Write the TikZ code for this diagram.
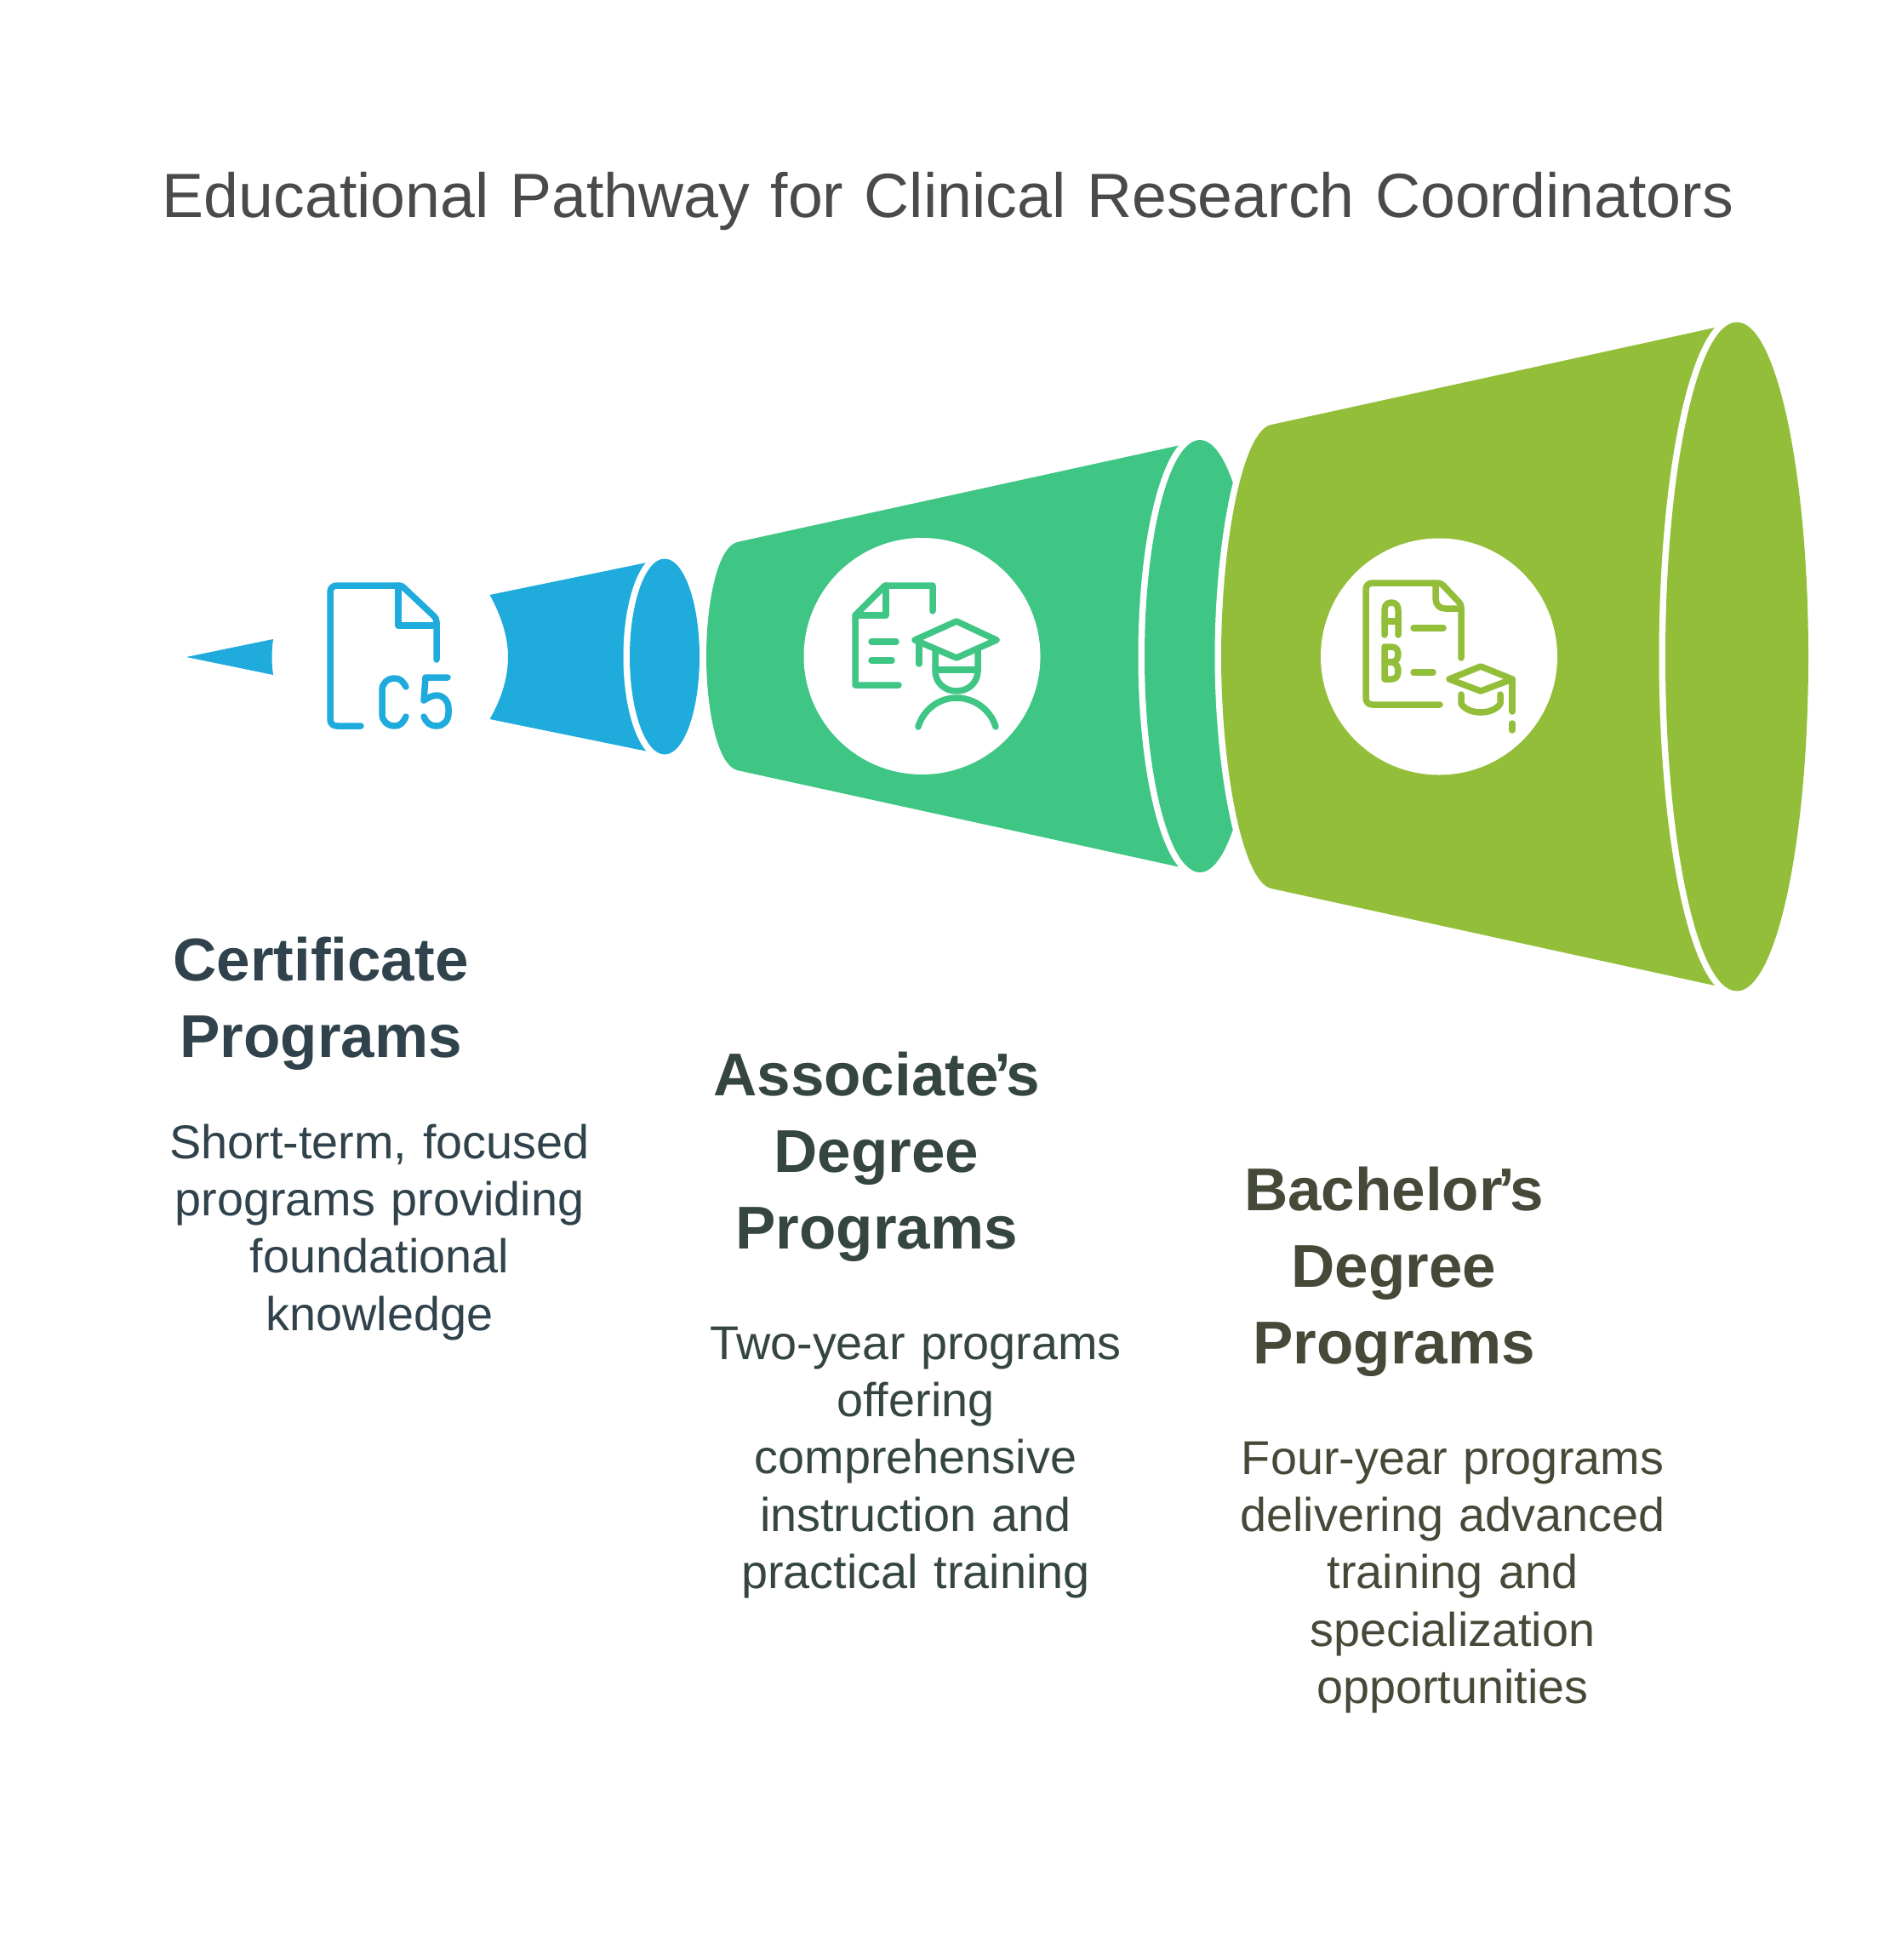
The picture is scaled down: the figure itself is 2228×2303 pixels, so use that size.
\documentclass[tikz,border=0pt]{standalone}
\usepackage{fontspec}
\setmainfont[WordSpace=0.85]{Liberation Sans}
\definecolor{certblue}{HTML}{1FABDC}
\definecolor{assocgreen}{HTML}{3FC684}
\definecolor{bachgreen}{HTML}{93BE3A}
\definecolor{titlegray}{HTML}{4A4A4A}
\definecolor{certink}{HTML}{30424B}
\definecolor{assocink}{HTML}{35463F}
\definecolor{bachink}{HTML}{454A38}
\newcommand{\tightapos}{\kern-.08em’\kern-.08em}
\begin{document}
\begin{tikzpicture}[
    x=1pt, y=-1pt,
    every node/.style={inner sep=0pt, align=center, text width=600pt, anchor=base},
    halo/.style={preaction={draw=white, line width=15pt}},
    icon/.style={line width=7.5pt, line cap=round, line join=round},
    headtext/.style={font=\fontsize{71}{90}\selectfont\bfseries},
    bodytext/.style={font=\fontsize{55.8}{67.4}\selectfont},
  ]
  \useasboundingbox (0,0) rectangle (2228,2303);

  \node[anchor=base, text width=2000pt, font=\fontsize{73.5}{80}\selectfont, text=titlegray] (title) at (1114,255) {Educational Pathway for Clinical Research Coordinators};

  % blue cone
  \fill[certblue] (219,772) -- (321,751) .. controls (319,765) and (319,779) .. (321,793) -- cycle;
  \fill[certblue] (575.5,699) -- (781,656.7) -- (781,887) -- (575.5,845)
    .. controls (590,820) and (597,795) .. (597,772) .. controls (597,750) and (590,725) .. (575.5,699) -- cycle;
  \fill[certblue, halo] (781,771.5) ellipse [x radius=41, y radius=115];

  % green cone
  \fill[assocgreen, halo] (866,637) -- (1410,518) -- (1410,1024) -- (866,905)
    .. controls (842,898) and (830,830) .. (830,771) .. controls (830,712) and (842,644) .. (866,637) -- cycle;
  \fill[assocgreen, halo] (1410,771) ellipse [x radius=65, y radius=254];

  % olive cone
  \fill[bachgreen, halo] (1494,499) -- (2040,379.5) -- (2040,1163.5) -- (1494,1044)
    .. controls (1460,1037) and (1435,902) .. (1435,771) .. controls (1435,640) and (1460,505) .. (1494,499) -- cycle;
  \fill[bachgreen, halo] (2041,771.5) ellipse [x radius=84, y radius=393];

  \fill[white] (1083.5,771) circle (139);
  \fill[white] (1691,771.5) circle (139);

  % file icon C5
  \begin{scope}[icon, draw=certblue]
    \draw (424,853) -- (396,853) .. controls (391,853) and (388,850) .. (388,845) -- (388,696)
      .. controls (388,691) and (391,688) .. (396,688) -- (469,688) .. controls (472,688) and (473,689) .. (475,691)
      -- (510,724) .. controls (512,726) and (513,728) .. (513,731) -- (513,775);
    \draw (468,688) -- (468,735) -- (513,735);
    \draw (477,807) .. controls (474,801) and (470,797) .. (464,797) .. controls (455,797) and (449,803) .. (449,811)
      -- (449,839) .. controls (449,847) and (455,853) .. (464,853) .. controls (470,853) and (474,849) .. (477,842);
    \draw (526,796) -- (500,796) -- (498,823) .. controls (503,820) and (508,817) .. (513,817)
      .. controls (521,817) and (527,824) .. (527,832) -- (527,838) .. controls (527,847) and (521,853) .. (513,853)
      .. controls (505,853) and (501,849) .. (498,842);
  \end{scope}

  % document and person icon
  \begin{scope}[icon, draw=assocgreen]
    \draw (1096,718) -- (1096,688) -- (1040,688) -- (1005,723) -- (1005,805) -- (1056,805);
    \draw (1041,688) -- (1041,723) -- (1005,723);
    \draw (1024,754) -- (1053,754);
    \draw (1024,776) -- (1048,776);
    \draw (1124,730) -- (1171,752) -- (1124,773) -- (1075,752) -- cycle;
    \draw (1080,753) -- (1080,780);
    \draw (1099,763) -- (1099,788) .. controls (1099,802) and (1110,812) .. (1124,812)
      .. controls (1138,812) and (1149,802) .. (1149,788) -- (1149,763);
    \draw (1099,787) -- (1149,787);
    \draw (1079,854) .. controls (1085,834) and (1103,820) .. (1124,820)
      .. controls (1145,820) and (1164,834) .. (1170,854);
  \end{scope}

  % A B sheet icon
  \begin{scope}[icon, draw=bachgreen]
    \draw (1692,828) -- (1613,828) .. controls (1608,828) and (1605,825) .. (1605,820) -- (1605,693)
      .. controls (1605,688) and (1608,685) .. (1613,685) -- (1689,685) .. controls (1692,685) and (1694,686) .. (1696,688)
      -- (1714,707) .. controls (1716,709) and (1717,711) .. (1717,714) -- (1717,773);
    \draw (1687,686) -- (1687,703) .. controls (1687,710) and (1691,715) .. (1698,715) -- (1717,715);
    \draw (1627,746) -- (1627,717) .. controls (1627,711) and (1630,708) .. (1635,708)
      .. controls (1640,708) and (1643,711) .. (1643,717) -- (1643,746);
    \draw (1627,730) -- (1643,730);
    \draw (1661,738) -- (1696,738);
    \draw (1627,760) -- (1635,760) .. controls (1641,760) and (1643,764) .. (1643,769)
      .. controls (1643,774) and (1640,778) .. (1635,778) .. controls (1640,778) and (1643,783) .. (1643,788)
      .. controls (1643,794) and (1641,798) .. (1635,798) -- (1627,798) -- cycle;
    \draw (1627,778) -- (1635,778);
    \draw (1661,790) -- (1684,790);
    \draw (1740,783) -- (1777,798) -- (1740,812) -- (1703,798) -- cycle;
    \draw (1777,798) -- (1777,836);
    \draw (1777,850) -- (1777,858);
    \draw (1717,816) -- (1717,827) .. controls (1722,834) and (1731,837) .. (1740,837)
      .. controls (1749,837) and (1758,834) .. (1763,827) -- (1763,816);
  \end{scope}

  \node[headtext, text=certink] (certhead) at (377,1152.5) {Certificate\\Programs};
  \node[bodytext, text=certink] (certbody) at (446,1361) {Short-term, focused\\programs providing\\foundational\\knowledge};

  \node[headtext, text=assocink] (assochead) at (1030,1287.5) {Associate\tightapos s\\Degree\\Programs};
  \node[bodytext, text=assocink] (assocbody) at (1076,1597) {Two-year programs\\offering\\comprehensive\\instruction and\\practical training};

  \node[headtext, text=bachink] (bachhead) at (1638,1422.5) {Bachelor\tightapos s\\Degree\\Programs};
  \node[bodytext, text=bachink] (bachbody) at (1707,1732) {Four-year programs\\delivering advanced\\training and\\specialization\\opportunities};
\end{tikzpicture}
\end{document}
